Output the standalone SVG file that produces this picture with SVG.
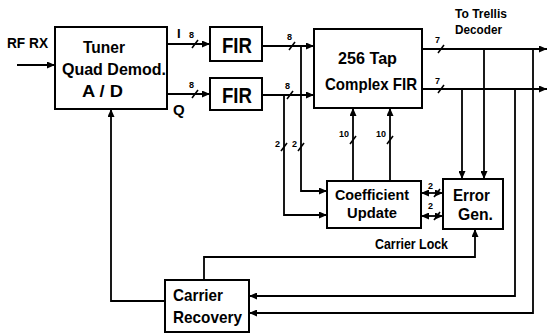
<svg xmlns="http://www.w3.org/2000/svg" width="548" height="335" viewBox="0 0 548 335">
<style>
.box{fill:#fff;stroke:#000;stroke-width:2}
.ln{fill:none;stroke:#000;stroke-width:1.8}
.sl{stroke:#000;stroke-width:1.6}
text{font-family:"Liberation Sans",Arial,sans-serif;font-weight:bold;fill:#000}
.t{font-size:17px}
.s{font-size:9px}
</style>
<defs>
<marker id="ah" markerUnits="userSpaceOnUse" markerWidth="8" markerHeight="7" refX="8" refY="3.5" orient="auto-start-reverse">
<path d="M0,0 L8,3.5 L0,7 z" fill="#000"/>
</marker>
</defs>
<rect width="548" height="335" fill="#fff"/>
<g id="connectors">
<path class="ln" d="M17,65 H55" marker-end="url(#ah)"/>
<path class="ln" d="M167,44 H210" marker-end="url(#ah)"/>
<path class="ln" d="M167,94 H210" marker-end="url(#ah)"/>
<path class="ln" d="M262,46 H314" marker-end="url(#ah)"/>
<path class="ln" d="M262,95 H314" marker-end="url(#ah)"/>
<path class="ln" d="M301,46 V191 H327" marker-end="url(#ah)"/>
<path class="ln" d="M284,95 V215 H327" marker-end="url(#ah)"/>
<path class="ln" d="M353,181 V108" marker-end="url(#ah)"/>
<path class="ln" d="M390,181 V108" marker-end="url(#ah)"/>
<path class="ln" d="M422,49 H547" marker-end="url(#ah)"/>
<path class="ln" d="M422,89 H547" marker-end="url(#ah)"/>
<path class="ln" d="M484,49 V179" marker-end="url(#ah)"/>
<path class="ln" d="M462,89 V179" marker-end="url(#ah)"/>
<path class="ln" d="M515,89 V296 H249" marker-end="url(#ah)"/>
<path class="ln" d="M533,49 V313 H249" marker-end="url(#ah)"/>
<path class="ln" d="M443,193 H421" marker-start="url(#ah)" marker-end="url(#ah)"/>
<path class="ln" d="M443,216 H421" marker-start="url(#ah)" marker-end="url(#ah)"/>
<path class="ln" d="M204,280 V257 H475 V229" marker-end="url(#ah)"/>
<path class="ln" d="M165,301 H111 V109" marker-end="url(#ah)"/>
<g id="slashes">
<line class="sl" x1="192" y1="48" x2="198" y2="40"/>
<line class="sl" x1="192" y1="98" x2="198" y2="90"/>
<line class="sl" x1="289" y1="50" x2="295" y2="42"/>
<line class="sl" x1="287" y1="99" x2="293" y2="91"/>
<line class="sl" x1="281" y1="151" x2="287" y2="143"/>
<line class="sl" x1="298" y1="151" x2="304" y2="143"/>
<line class="sl" x1="350" y1="144" x2="356" y2="136"/>
<line class="sl" x1="387" y1="144" x2="393" y2="136"/>
<line class="sl" x1="438" y1="53" x2="444" y2="45"/>
<line class="sl" x1="438" y1="93" x2="444" y2="85"/>
<line class="sl" x1="434" y1="197" x2="440" y2="189"/>
<line class="sl" x1="434" y1="220" x2="440" y2="212"/>
</g>
<g id="bus-labels">
<text class="s" x="189" y="38">8</text>
<text class="s" x="189" y="88">8</text>
<text class="s" x="287" y="40">8</text>
<text class="s" x="285" y="89">8</text>
<text class="s" x="275" y="147">2</text>
<text class="s" x="292" y="147">2</text>
<text class="s" x="339" y="137">10</text>
<text class="s" x="376" y="137">10</text>
<text class="s" x="435" y="43">7</text>
<text class="s" x="435" y="84">7</text>
<text class="s" x="428" y="189">2</text>
<text class="s" x="428" y="209">2</text>
</g>
</g>
<g id="tuner">
<rect class="box" x="55" y="27" width="112" height="82"/>
<text class="t" x="83" y="53" textLength="42" lengthAdjust="spacingAndGlyphs">Tuner</text>
<text class="t" x="62" y="75" textLength="104" lengthAdjust="spacingAndGlyphs">Quad Demod.</text>
<text class="t" x="82" y="97" textLength="41" lengthAdjust="spacingAndGlyphs">A / D</text>
</g>
<g id="labels">
<text x="7" y="48" style="font-size:14px" textLength="41" lengthAdjust="spacingAndGlyphs">RF RX</text>
<text x="177" y="38" style="font-size:13px">I</text>
<text x="173" y="115" style="font-size:15px">Q</text>
<text x="455" y="18" style="font-size:13px" textLength="52" lengthAdjust="spacingAndGlyphs">To Trellis</text>
<text x="455" y="34" style="font-size:13px" textLength="47" lengthAdjust="spacingAndGlyphs">Decoder</text>
<text x="375" y="249" style="font-size:15px" textLength="73" lengthAdjust="spacingAndGlyphs">Carrier Lock</text>
</g>
<g id="fir1">
<rect class="box" x="210" y="27" width="52" height="34"/>
<text x="222" y="53" style="font-size:22px" textLength="30" lengthAdjust="spacingAndGlyphs">FIR</text>
</g>
<g id="fir2">
<rect class="box" x="210" y="78" width="52" height="32"/>
<text x="222" y="103" style="font-size:22px" textLength="30" lengthAdjust="spacingAndGlyphs">FIR</text>
</g>
<g id="complex-fir">
<rect class="box" x="314" y="29" width="108" height="79"/>
<text class="t" x="338" y="64" textLength="59" lengthAdjust="spacingAndGlyphs">256 Tap</text>
<text class="t" x="325" y="90" textLength="92" lengthAdjust="spacingAndGlyphs">Complex FIR</text>
</g>
<g id="coefficient-update">
<rect class="box" x="327" y="181" width="94" height="47"/>
<text x="335" y="200" style="font-size:15px" textLength="74" lengthAdjust="spacingAndGlyphs">Coefficient</text>
<text x="347" y="218" style="font-size:15px" textLength="50" lengthAdjust="spacingAndGlyphs">Update</text>
</g>
<g id="error-gen">
<rect class="box" x="443" y="179" width="60" height="50"/>
<text class="t" x="453" y="201" textLength="37" lengthAdjust="spacingAndGlyphs">Error</text>
<text class="t" x="458" y="220" textLength="35" lengthAdjust="spacingAndGlyphs">Gen.</text>
</g>
<g id="carrier-recovery">
<rect class="box" x="165" y="280" width="84" height="52"/>
<text class="t" x="173" y="301" textLength="50" lengthAdjust="spacingAndGlyphs">Carrier</text>
<text class="t" x="173" y="323" textLength="69" lengthAdjust="spacingAndGlyphs">Recovery</text>
</g>
</svg>
